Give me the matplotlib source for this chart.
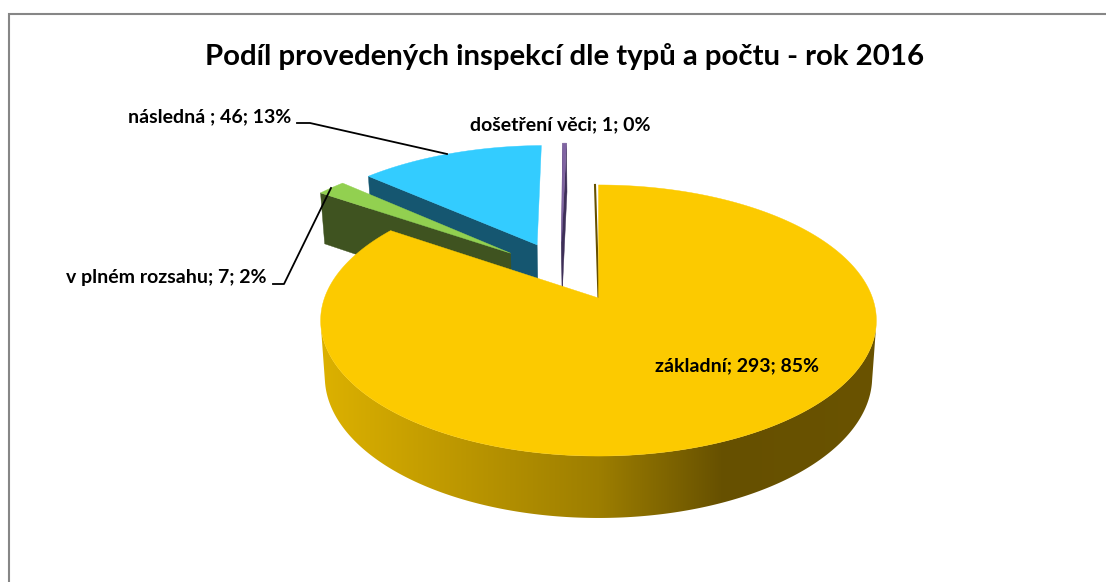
import numpy as np
import matplotlib
matplotlib.use("Agg")
import matplotlib.pyplot as plt
from matplotlib.colors import LinearSegmentedColormap
from matplotlib.patches import Polygon

categories = ["základní", "v plném rozsahu", "následná ", "došetření věci"]
values = [293, 7, 46, 1]
percent_labels = ["85%", "2%", "13%", "0%"]
title = "Podíl provedených inspekcí dle typů a počtu - rok 2016"

top_colors = ["#FCCA00", "#92D050", "#33CCFF", "#8064A2"]
side_colors = ["#665000", "#3F5320", "#155670", "#3E2F58"]
explode = [(0.0, 0.0), (-0.34, 0.36), (-0.24, 0.432), (-0.145, 0.46)]

CX, CY, A, B, K = 598.5, 298.0, 274.0, 131.8, 0.166
FONT = "Lato"

fig = plt.figure(figsize=(11.06, 5.82), dpi=100)
ax = fig.add_axes([0, 0, 1, 1])


def project(X, Y, bottom=False):
    X, Y = np.asarray(X, float), np.asarray(Y, float)
    w = 1 + K * Y
    if bottom:
        return CX + 0.985 * A * X / w, CY + 55.3 - 1.042 * B * Y / w
    return CX + A * X / w, CY - B * Y / w


def arc(start, stop, offset, bottom=False):
    t = np.radians(np.linspace(start, stop, max(int(abs(stop - start) * 2), 2) + 1))
    return project(np.sin(t) + offset[0], np.cos(t) + offset[1], bottom)


def radial_face(angle, offset, color, z):
    """Cut face running from the slice's centre to its rim at a pie angle."""
    t = np.radians(angle)
    rim = (np.sin(t) + offset[0], np.cos(t) + offset[1])
    xy = [project(*offset), project(*rim), project(*rim, True), project(*offset, True)]
    ax.add_patch(Polygon(np.array(xy, float), fc=color, ec=color, lw=0.3, zorder=z))


side_cmap = LinearSegmentedColormap.from_list(
    "side", [(0.0, "#DCB100"), (0.26, "#BB9600"), (0.5, "#9D7E00"),
             (0.725, "#665000"), (1.0, "#6A5300")])

edges = np.concatenate([[0], np.cumsum(values)]) / sum(values) * 360.0
for rank, i in enumerate([3, 2, 1, 0]):
    start, stop, off = edges[i], edges[i + 1], explode[i]
    z = 2 + rank * 3
    if i == 0:
        # rim of the big slice, between its two silhouette points
        tx, ty = arc(101, 258, off)
        bx, by = arc(101, 258, off, True)
        outline = np.column_stack([np.r_[tx, bx[::-1]], np.r_[ty, by[::-1]]])
        clip = Polygon(outline, transform=ax.transData, fc="none", ec="none")
        ax.add_patch(clip)
        img = ax.imshow(np.linspace(0, 1, 256)[None, :], cmap=side_cmap, aspect="auto",
                        extent=(321, 877, 530, 300), zorder=z, interpolation="bilinear")
        img.set_clip_path(clip)
        tip = project(0.0, 1.0)
        apex = project(0.0, 0.0)
        ax.plot([tip[0] - 3.5, apex[0]], [tip[1], apex[1]], color=side_colors[0],
                lw=1.5, zorder=z)
    else:
        radial_face(start, off, side_colors[i], z)
        if i == 3:
            radial_face(stop, off, side_colors[i], z)
    ax_x, ax_y = arc(start, stop, off)
    ox, oy = project(*off)
    ax.add_patch(Polygon(np.column_stack([np.r_[ox, ax_x], np.r_[oy, ax_y]]),
                         fc=top_colors[i], ec=top_colors[i], lw=0.3, zorder=z + 1))

ax.set_xlim(0, 1106)
ax.set_ylim(582, 0)
ax.axis("off")

# leader lines
ax.plot([297, 310, 447], [123, 123, 154], color="black", lw=1.3, zorder=20)
ax.plot([273, 284, 331], [284, 284, 188], color="black", lw=1.3, zorder=20)

# chart frame (left and top edges are the ones inside the picture)
ax.plot([9, 9, 1106], [582, 14, 14], color="#868686", lw=1.5, zorder=21,
        solid_joinstyle="miter", solid_capstyle="butt")

ax.text(564.5, 56, title, ha="center", va="center", fontsize=21.2, fontweight="bold",
        family=FONT, color="black", zorder=22)


def label(i):
    return f"{categories[i]}; {values[i]}; {percent_labels[i]}"


label_pos = [(737, 366), (166, 278), (209.5, 117), (560.5, 125)]
for i, (x, y) in enumerate(label_pos):
    ax.text(x, y, label(i), ha="center", va="center", fontsize=14, fontweight="bold",
            family=FONT, color="black", zorder=22)

fig.savefig("out.png", dpi=100, facecolor="white")
